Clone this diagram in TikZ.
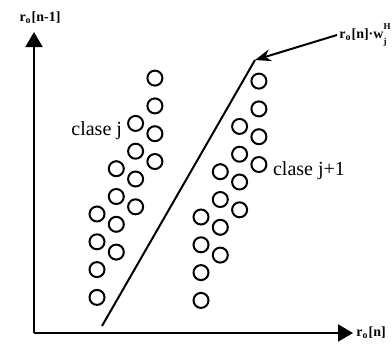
\documentclass[tikz,border=0pt]{standalone}
\usepackage{fontspec}
\setmainfont{Liberation Serif}
\usetikzlibrary{arrows.meta}

\begin{document}
\begin{tikzpicture}[x=0.5pt, y=-0.5pt,
    punto/.style = {draw, circle, line width=1pt, minimum size=7.5pt, inner sep=0pt},
    eje/.style = {line width=1pt, -{Triangle[length=7.5pt, width=8.5pt]}},
    etiq/.style = {font=\fontsize{7}{8}\selectfont\bfseries, inner sep=1pt},
    clase/.style = {font=\fontsize{10}{12}\selectfont}]
    \useasboundingbox (0,0) rectangle (392,344);

    % ejes
    \coordinate (o) at (34,333);
    \coordinate (ytip) at (34,32);
    \coordinate (xtip) at (353,333);
    \draw[eje] (o) -- (ytip);
    \draw[eje] (o) -- (xtip);
    \node[etiq] (ly) at (40,18) {r\textsubscript{o}[n-1]};
    \node[etiq, anchor=west] (lx) at (354,333) {r\textsubscript{o}[n]};

    % frontera de decision
    \coordinate (d1) at (102,326);
    \coordinate (d2) at (255,60);
    \draw[line width=1pt] (d1) -- (d2);
    \node[etiq, anchor=west] (lw) at (337,35) {r\textsubscript{o}[n]·w\rlap{\raisebox{4.4pt}{\fontsize{4.5}{5}\selectfont H}}\raisebox{-3.2pt}{\fontsize{4.5}{5}\selectfont j}};
    \draw[line width=1pt, -{Stealth[length=8pt, width=6pt]}] (lw.west) -- (d2);

    % muestras de cada clase
    \foreach \c/\bx/\by in {j/97/214, k/201/217} {
      \foreach \i in {0,...,3} {
        \foreach \k in {0,...,3} {
          \node[punto] (\c\i\k) at ({\bx+19.3*\i},{\by-45.3*\i+27.8*\k}) {};
        }
      }
    }
    \node[clase, anchor=base east] (cj) at (129,135) {clase j};
    \node[clase, anchor=base west] (ck) at (266,175) {clase j+1};
\end{tikzpicture}
\end{document}
